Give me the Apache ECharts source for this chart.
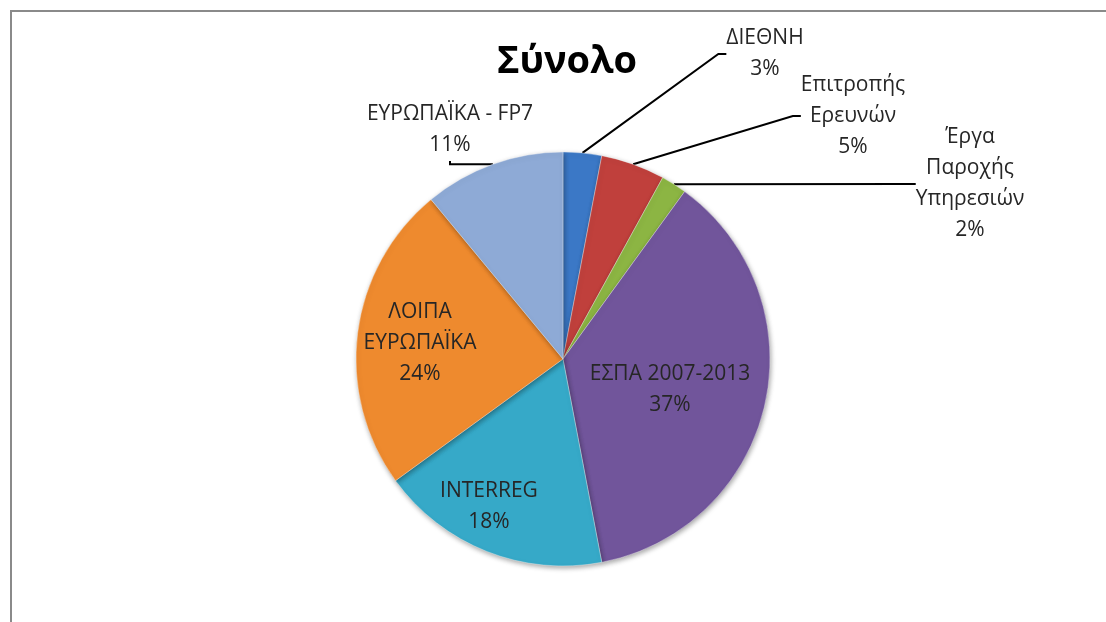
<!DOCTYPE html>
<html>
<head>
<meta charset="utf-8">
<script src="https://cdn.jsdelivr.net/npm/echarts@6/dist/echarts.min.js"></script>
<style>
html,body{margin:0;padding:0;background:#fff;}
#chart{width:1106px;height:622px;}
</style>
</head>
<body>
<div id="chart"></div>
<script>
// Data
var titleText = 'Σύνολο';
var categories = ['ΔΙΕΘΝΗ', 'Επιτροπής\nΕρευνών', 'Έργα\nΠαροχής\nΥπηρεσιών', 'ΕΣΠΑ 2007-2013', 'INTERREG', 'ΛΟΙΠΑ\nΕΥΡΩΠΑΪΚΑ', 'ΕΥΡΩΠΑΪΚΑ - FP7'];
var values = [3, 5, 2, 37, 18, 24, 11];

// Styles
var colors = ['#3b78c6', '#c0403c', '#8cb543', '#71559b', '#36a9c8', '#ee8a2e', '#8eaad6'];
var insideIdx = [3, 4, 5];
var labelPos = {
  0: {x: 765, y: 54},
  1: {x: 853, y: 116},
  2: {x: 970, y: 184},
  3: {x: 670, y: 390},
  4: {x: 489, y: 507},
  5: {x: 420, y: 343},
  6: {x: 450, y: 130}
};

var chart = echarts.init(document.getElementById('chart'));
var data = categories.map(function (c, i) {
  var inside = insideIdx.indexOf(i) >= 0;
  return {
    name: c,
    value: values[i],
    itemStyle: {color: colors[i]},
    label: {position: inside ? 'inside' : 'outside'},
    labelLine: {show: !inside}
  };
});

chart.setOption({
  animation: false,
  backgroundColor: '#ffffff',
  title: {
    text: titleText,
    left: 562,
    top: 38,
    textAlign: 'center',
    textStyle: {fontFamily: 'Open Sans', fontSize: 38, fontWeight: 'bold', color: '#000'}
  },
  graphic: [{
    type: 'rect',
    shape: {x: 11, y: 11, width: 1300, height: 800},
    style: {fill: null, stroke: '#8a8a8a', lineWidth: 2},
    silent: true
  }],
  series: [{
    type: 'pie',
    center: [563, 359],
    radius: [0, 207],
    startAngle: 90,
    clockwise: true,
    avoidLabelOverlap: false,
    data: data,
    itemStyle: {
      borderColor: 'rgba(255,255,255,0.35)',
      borderWidth: 1,
      shadowBlur: 5,
      shadowColor: 'rgba(0,0,0,0.35)',
      shadowOffsetX: 1,
      shadowOffsetY: 2
    },
    label: {
      formatter: function (p) { return p.name + '\n' + p.value + '%'; },
      fontFamily: 'Open Sans',
      fontSize: 21,
      lineHeight: 31,
      color: '#262626',
      align: 'center'
    },
    labelLine: {
      show: true,
      length: 20,
      length2: 8,
      lineStyle: {color: '#000', width: 2}
    },
    labelLayout: function (params) {
      var p = labelPos[params.dataIndex];
      return {x: p.x, y: p.y, align: 'center', verticalAlign: 'middle'};
    }
  }]
});
</script>
</body>
</html>
